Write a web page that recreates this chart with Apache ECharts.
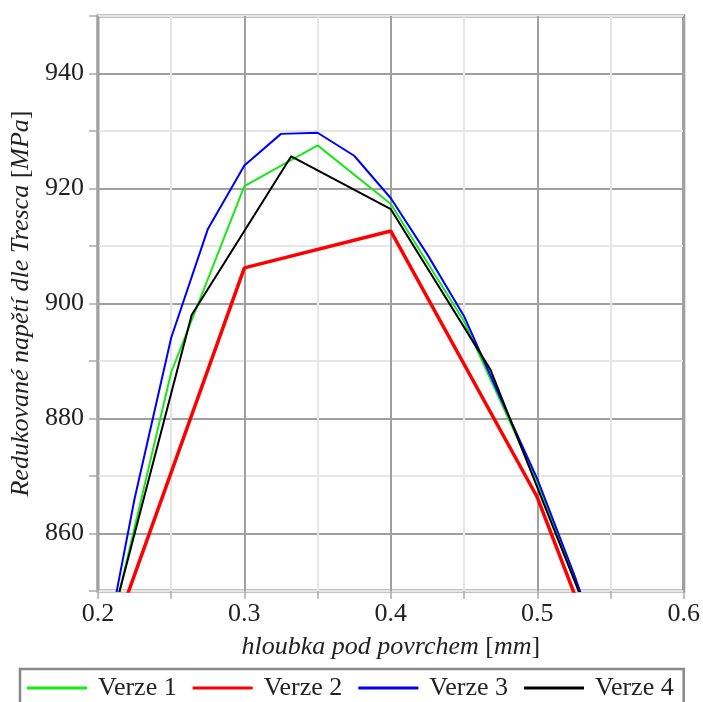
<!DOCTYPE html>
<html>
<head>
<meta charset="utf-8">
<script src="https://cdn.jsdelivr.net/npm/echarts@6/dist/echarts.min.js"></script>
<style>
html,body{margin:0;padding:0;background:#fff;}
#chart{width:703px;height:702px;}
</style>
</head>
<body>
<div id="chart"></div>
<script>
// Data
const seriesNames = ['Verze 1', 'Verze 2', 'Verze 3', 'Verze 4'];
const verze1 = [[0.2,834],[0.25,888],[0.3,920.4],[0.35,927.5],[0.4,917.3],[0.45,896.9],[0.5,869],[0.55,836]];
const verze2 = [[0.2,835],[0.3,906.2],[0.4,912.6],[0.5,866.3],[0.6,800]];
const verze3 = [[0.2,833],[0.225,866],[0.25,894],[0.275,912.9],[0.3,924],[0.325,929.5],[0.35,929.7],[0.375,925.7],[0.4,918.3],[0.425,908.5],[0.45,897.8],[0.475,883.5],[0.5,869.5],[0.525,853],[0.55,835]];
const verze4 = [[0.2,835.5],[0.264,898],[0.332,925.6],[0.4,916.4],[0.468,888.5],[0.536,845]];
const xTickLabels = ['0.2','0.3','0.4','0.5','0.6'];
const yTickLabels = ['860','880','900','920','940'];
const xTitle = 'hloubka pod povrchem';
const xUnit = 'mm';
const yTitle = 'Redukované napětí dle Tresca';
const yUnit = 'MPa';

const FONT = 'Liberation Serif';
const colors = ['#17e817', '#ff0000', '#0000ff', '#000000'];
const widths = [2, 3.5, 2, 2];
const datasets = [verze1, verze2, verze3, verze4];

const chart = echarts.init(document.getElementById('chart'), null, {renderer: 'canvas'});

const richTitle = {
  i: {fontFamily: FONT, fontStyle: 'italic', fontSize: 26, color: '#222'},
  n: {fontFamily: FONT, fontStyle: 'normal', fontSize: 26, color: '#222'}
};

chart.setOption({
  animation: false,
  backgroundColor: '#ffffff',
  grid: {
    left: 97, right: 17, top: 16, bottom: 111,
    show: true, borderColor: '#858585', borderWidth: 3, backgroundColor: 'transparent'
  },
  legend: {
    data: seriesNames,
    left: 20, top: 669,
    icon: 'rect', itemWidth: 60, itemHeight: 3, itemGap: 16,
    padding: [6, 10, 40, 7],
    borderColor: '#888888', borderWidth: 2.5,
    textStyle: {fontFamily: FONT, fontSize: 26, color: '#222', padding: [0, 0, 0, 6]}
  },
  xAxis: {
    type: 'value', min: 0.2, max: 0.6, interval: 0.05,
    name: '{i|' + xTitle + ' }{n|[}{i|' + xUnit + '}{n|]}',
    nameLocation: 'middle', nameGap: 43,
    nameTextStyle: {rich: richTitle},
    axisLine: {show: false},
    axisTick: {show: true, length: 8, lineStyle: {color: '#aaaaaa', width: 1.5}},
    axisLabel: {
      fontFamily: FONT, fontSize: 26, color: '#222', margin: 10,
      formatter: function (v) {
        const s = (Math.round(v * 10) / 10).toFixed(1);
        return (Math.abs(v * 10 - Math.round(v * 10)) < 1e-6 && xTickLabels.indexOf(s) >= 0) ? s : '';
      }
    },
    splitLine: {show: true, lineStyle: {color: ['#a0a0a0', '#e6e6e6'], width: 2}}
  },
  yAxis: {
    type: 'value', min: 850, max: 950, interval: 10,
    name: '{i|' + yTitle + ' }{n|[}{i|' + yUnit + '}{n|]}',
    nameLocation: 'middle', nameGap: 55, nameRotate: 90,
    nameTextStyle: {rich: richTitle},
    axisLine: {show: false},
    axisTick: {show: true, length: 9, lineStyle: {color: '#aaaaaa', width: 1.5}},
    axisLabel: {
      fontFamily: FONT, fontSize: 26, color: '#222', margin: 14,
      formatter: function (v) {
        const s = String(Math.round(v));
        return yTickLabels.indexOf(s) >= 0 ? s : '';
      }
    },
    splitLine: {show: true, lineStyle: {color: ['#e6e6e6', '#a0a0a0'], width: 2}}
  },
  series: datasets.map(function (d, i) {
    return {
      name: seriesNames[i], type: 'line', data: d,
      symbol: 'none', clip: true,
      lineStyle: {color: colors[i], width: widths[i]},
      itemStyle: {color: colors[i]}
    };
  })
});
</script>
</body>
</html>
